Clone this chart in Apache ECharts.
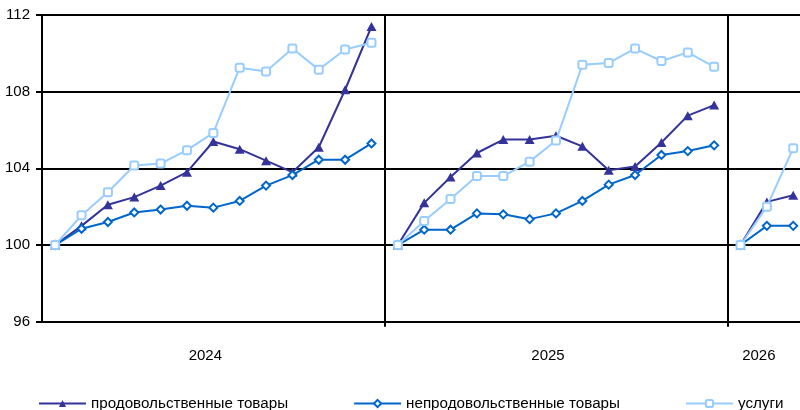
<!DOCTYPE html>
<html>
<head>
<meta charset="utf-8">
<script src="https://cdn.jsdelivr.net/npm/echarts@6/dist/echarts.min.js"></script>
<style>
html,body{margin:0;padding:0;background:#fff;}
#chart{width:800px;height:410px;}
</style>
</head>
<body>
<div id="chart"></div>
<script>
// Categories: Dec of previous year + 12 months per year; 2026 has Dec 2025 + Jan, Feb
const months = ['дек','янв','фев','мар','апр','май','июн','июл','авг','сен','окт','ноя','дек'];
const years = ['2024', '2025', '2026'];
const yearLengths = [13, 13, 3];
const yearLabelIndex = [6, 19, 27];

const food2024 = [100, 101.0, 102.1, 102.5, 103.1, 103.8, 105.4, 105.0, 104.4, 103.8, 105.1, 108.1, 111.4];
const nonfood2024 = [100, 100.85, 101.2, 101.7, 101.85, 102.05, 101.95, 102.3, 103.1, 103.65, 104.45, 104.45, 105.3];
const serv2024 = [100, 101.55, 102.75, 104.15, 104.25, 104.95, 105.85, 109.25, 109.05, 110.25, 109.15, 110.2, 110.55];

const food2025 = [100, 102.2, 103.55, 104.8, 105.5, 105.5, 105.7, 105.15, 103.9, 104.1, 105.35, 106.75, 107.3];
const nonfood2025 = [100, 100.8, 100.8, 101.65, 101.6, 101.35, 101.65, 102.3, 103.15, 103.65, 104.7, 104.9, 105.2];
const serv2025 = [100, 101.25, 102.4, 103.6, 103.6, 104.35, 105.45, 109.4, 109.5, 110.25, 109.6, 110.05, 109.3];

const food2026 = [100, 102.25, 102.6];
const nonfood2026 = [100, 101.0, 101.0];
const serv2026 = [100, 102.0, 105.05];

const seriesNames = ['продовольственные товары', 'непродовольственные товары', 'услуги'];

// build category list
const categories = [];
years.forEach((y, yi) => {
  for (let i = 0; i < yearLengths[yi]; i++) {
    const prevYear = String(Number(y) - 1);
    categories.push(i === 0 ? months[0] + ' ' + prevYear : months[i] + ' ' + y);
  }
});
const yearStart = [0, 13, 26];
const separatorIdx = [13, 26];

function pad(arr, start) {
  const out = new Array(categories.length).fill(null);
  arr.forEach((v, i) => { out[start + i] = v; });
  return out;
}

const styles = [
  { color: '#333399', symbol: 'triangle', symbolSize: [10, 9], width: 2 },
  { color: '#0066CC', symbol: 'emptyDiamond', symbolSize: 8, width: 2, borderWidth: 2 },
  { color: '#99CCFF', symbol: 'emptyRoundRect', symbolSize: 8, width: 2, borderWidth: 1.8 }
];
const dataSets = [
  [food2024, food2025, food2026],
  [nonfood2024, nonfood2025, nonfood2026],
  [serv2024, serv2025, serv2026]
];

const series = [];
dataSets.forEach((sets, si) => {
  sets.forEach((arr, yi) => {
    const st = styles[si];
    series.push({
      name: seriesNames[si],
      type: 'line',
      data: pad(arr, yearStart[yi]),
      symbol: st.symbol,
      symbolSize: st.symbolSize,
      showAllSymbol: true,
      connectNulls: false,
      lineStyle: { color: st.color, width: st.width },
      itemStyle: { color: st.color, borderColor: st.color, borderWidth: st.borderWidth || 0 },
      z: 2 + si,
      animation: false
    });
  });
});

const chart = echarts.init(document.getElementById('chart'), null, { renderer: 'canvas' });
chart.setOption({
  animation: false,
  backgroundColor: '#fff',
  textStyle: { fontFamily: 'Liberation Sans, Arial, sans-serif' },
  grid: { left: 42, top: 15, width: 764.4, height: 306.7, containLabel: false, outerBoundsMode: 'none' },
  legend: {
    data: seriesNames,
    left: 33,
    top: 391,
    width: 780,
    itemWidth: 47,
    itemHeight: 9,
    itemGap: 65,
    textStyle: { fontSize: 15.2, color: '#000', fontFamily: 'Liberation Sans, Arial, sans-serif' }
  },
  xAxis: {
    type: 'category',
    data: categories,
    boundaryGap: true,
    axisLine: { show: true, lineStyle: { color: '#000', width: 2 } },
    axisTick: {
      show: true,
      length: 5,
      interval: function (index) { return separatorIdx.indexOf(index) >= 0; },
      lineStyle: { color: '#000', width: 2 }
    },
    splitLine: {
      show: true,
      interval: function (index) { return separatorIdx.indexOf(index) >= 0; },
      lineStyle: { color: '#000', width: 2 }
    },
    axisLabel: {
      interval: 0,
      margin: 27,
      fontSize: 15,
      color: '#000',
      padding: [0, 16, 0, 0],
      formatter: function (val, index) {
        const k = yearLabelIndex.indexOf(index);
        return k >= 0 ? years[k] : '';
      }
    }
  },
  yAxis: {
    type: 'value',
    min: 96,
    max: 112,
    interval: 4,
    axisLine: { show: true, lineStyle: { color: '#000', width: 2 } },
    axisTick: { show: true, length: 6, lineStyle: { color: '#000', width: 2 } },
    splitLine: { show: true, lineStyle: { color: '#000', width: 2 } },
    axisLabel: { fontSize: 15, color: '#000', margin: 12 }
  },
  series: series
});
</script>
</body>
</html>
